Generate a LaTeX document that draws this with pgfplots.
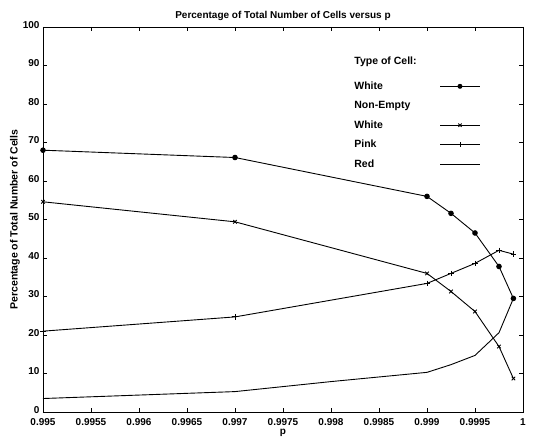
\documentclass[border=0pt]{standalone}
\usepackage{fontspec}
\setmainfont{Liberation Sans}
\usepackage{pgfplots}
\pgfplotsset{compat=1.18}
\begin{document}
\begin{tikzpicture}
\begin{axis}[
	scale only axis,
	width=480pt, height=385pt,
	xmin=0.995, xmax=1, ymin=0, ymax=100,
	xtick={0.995,0.9955,0.996,0.9965,0.997,0.9975,0.998,0.9985,0.999,0.9995,1},
	xticklabels={0.995,0.9955,0.996,0.9965,0.997,0.9975,0.998,0.9985,0.999,0.9995,1},
	ytick={0,10,...,100},
	tick align=inside, tick pos=both,
	major tick length=4pt,
	/pgf/number format/assume math mode=true,
	tick label style={font=\fontsize{10}{11}\selectfont\bfseries},
	xticklabel style={yshift=-3pt},
	yticklabel style={yshift=2pt},
	title={\textbf{Percentage of Total Number of Cells versus p}},
	title style={font=\fontsize{10}{11}\selectfont, yshift=-3pt},
	xlabel={\textbf{p}}, xlabel style={font=\fontsize{10}{11}\selectfont, yshift=3pt},
	ylabel={\textbf{Percentage of Total Number of Cells}},
	ylabel style={font=\fontsize{10.5}{11}\selectfont, yshift=-4pt},
	axis line style={line width=0.9pt},
	every tick/.style={line width=0.8pt},
	clip=false,
	legend style={draw=none, fill=none, at={(rel axis cs:0.64,0.93)}, anchor=north west,
		font=\fontsize{10.5}{11}\selectfont\bfseries, row sep=8.5pt, nodes={inner sep=1pt},
		/tikz/every odd column/.append style={column sep=22pt}},
	legend cell align=left,
	legend plot pos=right,
	legend image code/.code={\draw[mark repeat=2,mark phase=2] plot coordinates {(0cm,0cm) (0.7cm,0cm) (1.4cm,0cm)};},
	every axis plot/.append style={line width=0.9pt, black},
]
\addlegendimage{empty legend}\addlegendentry{\raisebox{5pt}{Type of Cell:}}
\addlegendimage{black, line width=0.9pt, mark=*, mark size=2pt}\addlegendentry{White}
\addlegendimage{empty legend}\addlegendentry{Non-Empty}
\addlegendimage{black, line width=0.9pt, mark=x, mark size=2.3pt}\addlegendentry{White}
\addlegendimage{black, line width=0.9pt, mark=+, mark size=2.5pt}\addlegendentry{Pink}
\addlegendimage{black, line width=0.9pt}\addlegendentry{Red}

\addplot[mark=*, mark size=2.3pt, forget plot] coordinates {
(0.995,68.0) (0.997,66.1) (0.999,56.0) (0.99925,51.6) (0.9995,46.5) (0.99975,37.8) (0.9999,29.5)};
\addplot[mark=x, mark size=2.5pt, forget plot] coordinates {
(0.995,54.6) (0.997,49.4) (0.999,36.0) (0.99925,31.3) (0.9995,26.1) (0.99975,17.0) (0.9999,8.7)};
\addplot[mark=+, mark size=2.8pt, forget plot] coordinates {
(0.995,21.0) (0.997,24.7) (0.999,33.4) (0.99925,36.0) (0.9995,38.6) (0.99975,42.0) (0.9999,41.0)};
\addplot[no marks, forget plot] coordinates {
(0.995,3.5) (0.997,5.3) (0.998,7.9) (0.999,10.3) (0.99925,12.3) (0.9995,14.7) (0.99975,20.6) (0.9999,29.5)};

\path (rel axis cs:0,0) ++(-43pt,-26pt) coordinate (bbl);
\path (rel axis cs:1,1) ++(17pt,27pt) coordinate (bbr);
\end{axis}
\path (bbl) rectangle (bbr);
\end{tikzpicture}
\end{document}
